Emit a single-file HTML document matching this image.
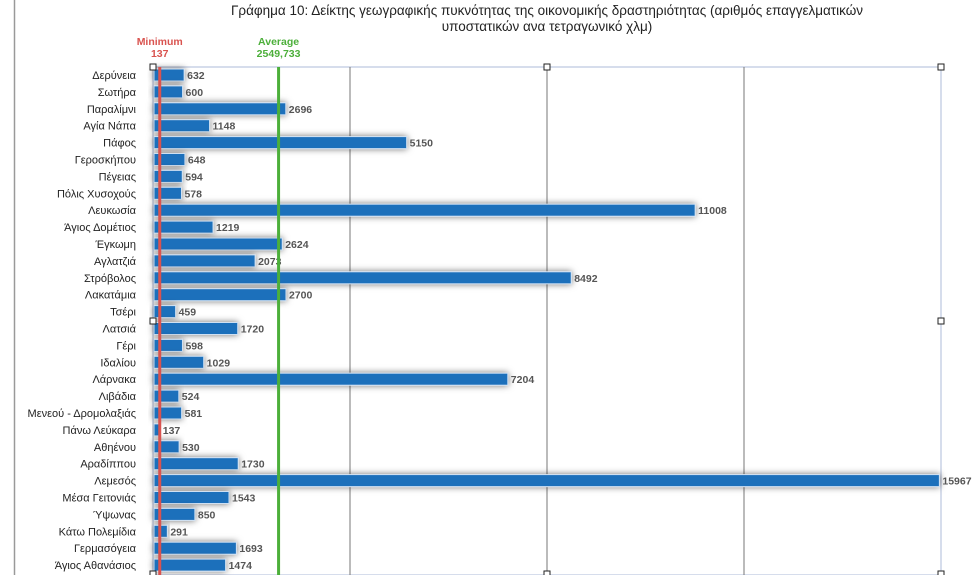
<!DOCTYPE html>
<html><head><meta charset="utf-8">
<style>
html,body{margin:0;padding:0;background:#fff;width:980px;height:575px;overflow:hidden;font-family:"Liberation Sans",sans-serif;}
</style></head>
<body>
<svg width="980" height="575" xmlns="http://www.w3.org/2000/svg">
<defs><filter id="sh" x="-20%" y="-100%" width="140%" height="300%"><feDropShadow dx="0" dy="0" stdDeviation="3.5" flood-color="#000" flood-opacity="0.55"/></filter></defs>
<line x1="14.5" y1="0" x2="14.5" y2="575" stroke="#999" stroke-width="1.5"/>
<text x="547" y="15" text-anchor="middle" font-size="13.5" fill="#222">Γράφημα 10: Δείκτης γεωγραφικής πυκνότητας της οικονομικής δραστηριότητας (αριθμός επαγγελματικών</text>
<text x="547" y="31" text-anchor="middle" font-size="13.5" fill="#222">υποστατικών ανα τετραγωνικό χλμ)</text>
<g id="grid"></g>
<g id="bars"></g>
<g id="refs"></g>
</svg>
<script>
const categories=["Δερύνεια","Σωτήρα","Παραλίμνι","Αγία Νάπα","Πάφος","Γεροσκήπου","Πέγειας","Πόλις Χυσοχούς","Λευκωσία","Άγιος Δομέτιος","Έγκωμη","Αγλατζιά","Στρόβολος","Λακατάμια","Τσέρι","Λατσιά","Γέρι","Ιδαλίου","Λάρνακα","Λιβάδια","Μενεού - Δρομολαξιάς","Πάνω Λεύκαρα","Αθηένου","Αραδίππου","Λεμεσός","Μέσα Γειτονιάς","Ύψωνας","Κάτω Πολεμίδια","Γερμασόγεια","Άγιος Αθανάσιος"];
const values=[632,600,2696,1148,5150,648,594,578,11008,1219,2624,2073,8492,2700,459,1720,598,1029,7204,524,581,137,530,1730,15967,1543,850,291,1693,1474];
const gridTicks=[0,4000,8000,12000,16000];
const minimumValue=137;
const averageValue=2549.733;
const NS="http://www.w3.org/2000/svg";
const X0=153,X1=941,XMAX=16000,Y0=75,DY=16.9,BH=12,TOP=67,BOT=575;
const xs=v=>X0+(X1-X0)*v/XMAX;
const ys=i=>Y0+i*DY;
function mk(t,a,p){const e=document.createElementNS(NS,t);for(const k in a)e.setAttribute(k,a[k]);p.appendChild(e);return e;}
const grid=document.getElementById('grid'),bars=document.getElementById('bars'),refs=document.getElementById('refs');
mk('rect',{x:X0,y:TOP,width:X1-X0,height:BOT-TOP,fill:'none',stroke:'#aebbd8','stroke-width':1},grid);
gridTicks.forEach((t,i)=>{if(i===0||i===gridTicks.length-1)return;const l=mk('line',{x1:xs(t),x2:xs(t),y1:TOP,y2:BOT,stroke:'#777','stroke-width':1},grid);

});
categories.forEach((c,i)=>{
 const y=ys(i);
 const lab=mk('text',{x:136,y:y+4,'text-anchor':'end','font-size':11,fill:'#222'},bars);lab.textContent=c;
 
 
 const w=xs(values[i])-X0;
 const r=mk('rect',{x:X0+1,y:y-BH/2,width:Math.max(w-1,2),height:BH,fill:'#1b6fbb',stroke:'#cfe0f2','stroke-width':1,filter:'url(#sh)'},bars);
 
 
 const vt=mk('text',{x:X0+w+3,y:y+4,'font-size':10.5,'font-weight':'bold',fill:'#555'},bars);vt.textContent=values[i];
 
 
});
const ml=mk('line',{x1:xs(minimumValue),x2:xs(minimumValue),y1:TOP,y2:BOT,stroke:'#d9534f','stroke-width':3},refs);


const al=mk('line',{x1:xs(averageValue),x2:xs(averageValue),y1:TOP,y2:BOT,stroke:'#4caf3a','stroke-width':3},refs);


[[minimumValue,'Minimum',String(minimumValue),'#d9534f'],[averageValue,'Average',String(averageValue).replace('.',','),'#4caf3a']].forEach(([v,a,b,c])=>{
 const t1=mk('text',{x:xs(v),y:45,'text-anchor':'middle','font-size':10.5,'font-weight':'bold',fill:c},refs);t1.textContent=a;
 
 
 const t2=mk('text',{x:xs(v),y:57,'text-anchor':'middle','font-size':10.5,'font-weight':'bold',fill:c},refs);t2.textContent=b;
 
 
});
[[X0,TOP],[(X0+X1)/2,TOP],[X1,TOP],[X0,321],[X1,321],[X0,574],[(X0+X1)/2,574],[X1,574]].forEach(([x,y])=>{
 const h=mk('rect',{x:x-3,y:y-3,width:6,height:6,fill:'#fff',stroke:'#222','stroke-width':1},refs);
 
 
});
</script>
</body></html>
